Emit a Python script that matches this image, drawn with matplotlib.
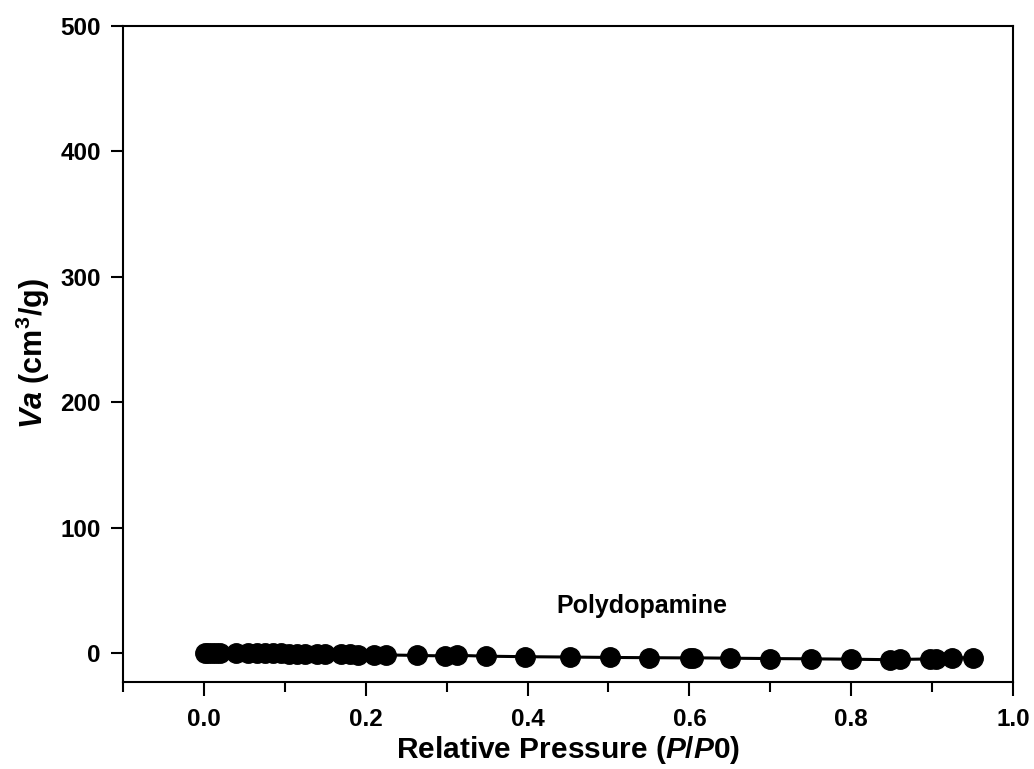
import matplotlib
matplotlib.use('Agg')
import matplotlib.pyplot as plt
from matplotlib.ticker import MultipleLocator

# data
rel_p = [0.001, 0.005, 0.010, 0.015, 0.020, 0.040, 0.055, 0.065, 0.075, 0.085,
         0.095, 0.105, 0.115, 0.125, 0.140, 0.150, 0.170, 0.180, 0.190, 0.210,
         0.225, 0.263, 0.298, 0.313, 0.348, 0.397, 0.453, 0.502, 0.550, 0.601,
         0.605, 0.650, 0.700, 0.750, 0.800, 0.848, 0.860, 0.897, 0.905, 0.924, 0.951]
va = [0.5, 0.4, 0.4, 0.3, 0.3, 0.2, 0.1, 0.0, 0.0, -0.1,
      -0.2, -0.3, -0.4, -0.5, -0.6, -0.7, -0.9, -1.0, -1.1, -1.2,
      -1.4, -1.8, -2.2, -1.7, -2.4, -2.8, -3.1, -3.4, -3.6, -3.8,
      -3.7, -4.0, -4.3, -4.5, -4.8, -5.2, -5.0, -4.6, -4.4, -4.0, -3.5]
x_ticks = [0.0, 0.2, 0.4, 0.6, 0.8, 1.0]
y_ticks = [0, 100, 200, 300, 400, 500]

plt.rcParams['font.family'] = 'Liberation Sans'
plt.rcParams['font.weight'] = 'bold'
plt.rcParams['mathtext.fontset'] = 'custom'
plt.rcParams['mathtext.rm'] = 'Liberation Sans:bold'
plt.rcParams['mathtext.it'] = 'Liberation Sans:italic:bold'
plt.rcParams['mathtext.bf'] = 'Liberation Sans:bold'

fig = plt.figure(figsize=(10.34, 7.69), dpi=100)
ax = fig.add_axes([0.119, 0.1131, 0.8607, 0.8531])

ax.plot(rel_p, va, color='black', marker='o', ms=14, linewidth=2.2)

ax.set_xlim(-0.1, 1.0)
ax.set_ylim(-23, 500)
ax.set_xticks(x_ticks)
ax.set_xticklabels(['%.1f' % t for t in x_ticks])
ax.xaxis.set_minor_locator(MultipleLocator(0.1))
ax.set_yticks(y_ticks)

for s in ax.spines.values():
    s.set_linewidth(1.5)
ax.tick_params(axis='x', which='major', direction='out', length=10, width=1.5, labelsize=17.5, pad=9)
ax.tick_params(axis='y', which='major', direction='out', length=9, width=1.5, labelsize=17.5, pad=7)
ax.tick_params(axis='x', which='minor', direction='out', length=7, width=1.5)
ax.tick_params(top=False, right=False, which='both')
for lab in ax.get_xticklabels() + ax.get_yticklabels():
    lab.set_fontweight('bold')

ax.text(0.541, 38, 'Polydopamine', ha='center', va='center', fontsize=18, fontweight='bold')

ax.set_xlabel(r'Relative Pressure ($\mathit{P/P0}$)', fontsize=21.5, fontweight='bold', labelpad=2)
ax.set_ylabel(r'$\mathit{Va}$ (cm$^{3}$/g)', fontsize=22, fontweight='bold', labelpad=6)

plt.savefig('out.png', dpi=100)
